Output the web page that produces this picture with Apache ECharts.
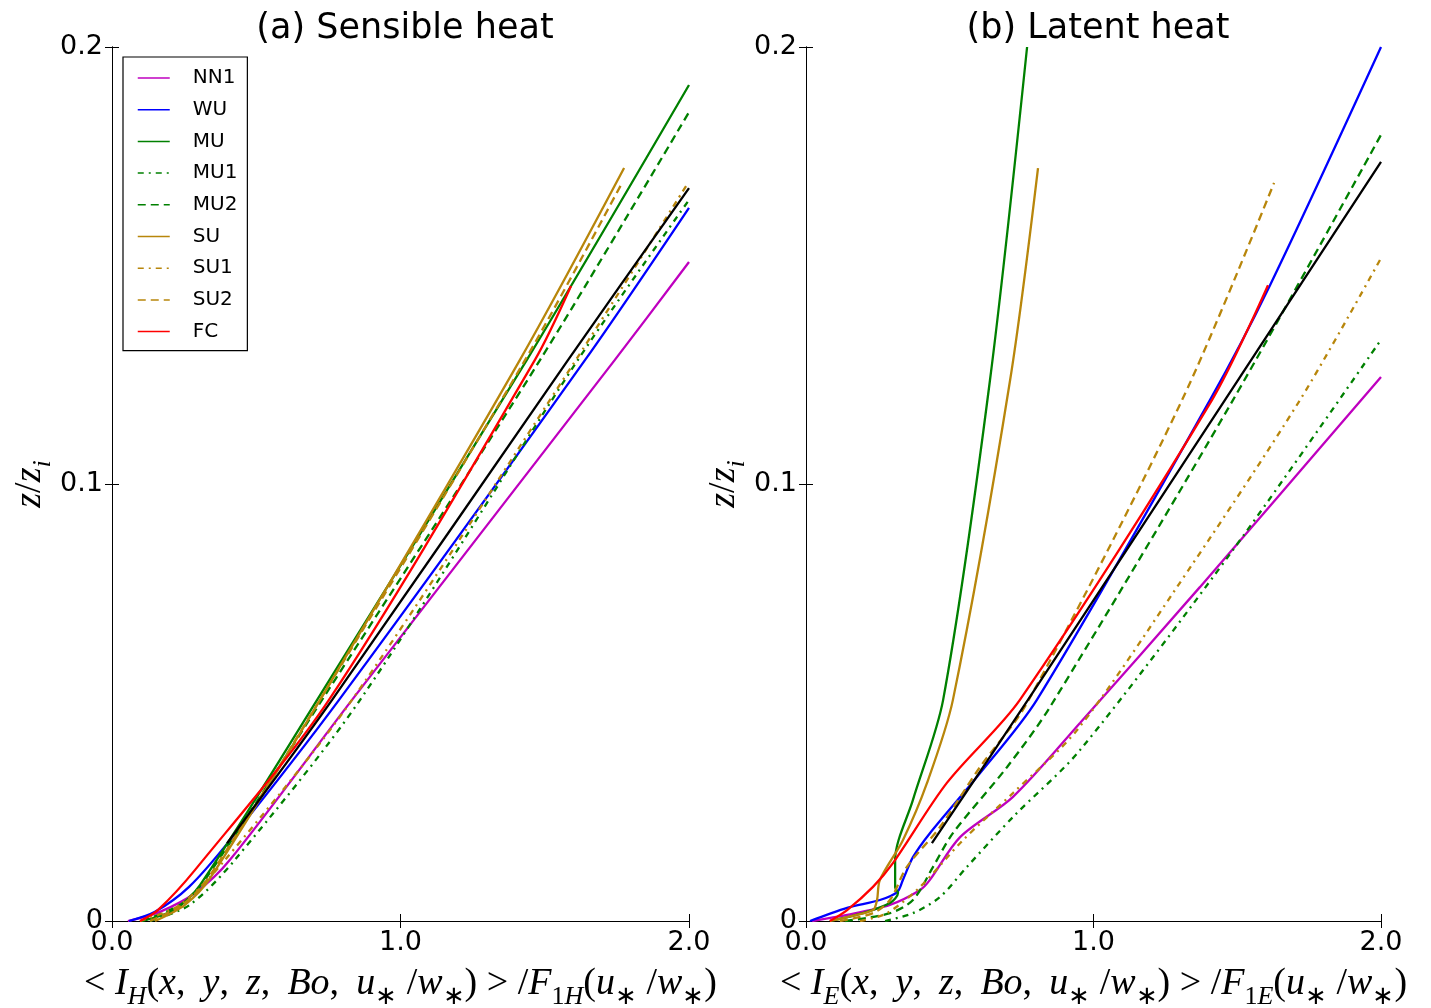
<!DOCTYPE html>
<html>
<head>
<meta charset="utf-8">
<script src="https://cdn.jsdelivr.net/npm/echarts@6/dist/echarts.min.js"></script>
<style>
html, body { margin: 0; padding: 0; background: #fff; }
#main { width: 1431px; height: 1008px; }
</style>
</head>
<body>
<div id="main"></div>
<script>
// (a) sensible heat : [x, z/zi]
var sensNN1 = [[0.055,0],[0.166,0.0021],[0.288,0.0064],[0.409,0.0140],[0.832,0.0506],[1.743,0.1284],[2.0,0.1508]];
var sensWU  = [[0.059,0],[0.149,0.0021],[0.267,0.0078],[0.409,0.0185],[0.787,0.0506],[1.640,0.1284],[2.0,0.1632]];
var sensMU  = [[0.104,0],[0.215,0.0025],[0.305,0.0082],[0.711,0.0506],[1.438,0.1284],[2.0,0.1913]];
var sensMU1 = [[0.132,0],[0.270,0.0037],[0.426,0.0140],[0.860,0.0506],[1.615,0.1284],[2.0,0.1650]];
var sensMU2 = [[0.104,0],[0.236,0.0037],[0.322,0.0094],[0.728,0.0506],[1.484,0.1284],[2.0,0.1851]];
var sensSU  = [[0.149,0],[0.253,0.0037],[0.340,0.0098],[0.721,0.0506],[1.414,0.1284],[1.775,0.1723]];
var sensSU1 = [[0.097,0],[0.236,0.0037],[0.392,0.0140],[0.832,0.0506],[1.608,0.1284],[1.990,0.1682]];
var sensSU2 = [[0.132,0],[0.243,0.0037],[0.333,0.0098],[0.721,0.0506],[1.432,0.1284],[1.768,0.1689]];
var sensFC  = [[0.097,0],[0.159,0.0025],[0.288,0.0117],[0.752,0.0506],[1.466,0.1284],[1.591,0.1453]];
var sensRef = [[0.399,0.0178],[0.763,0.0506],[1.581,0.1284],[2.0,0.1677]];

// (b) latent heat
var latNN1 = [[0.021,0],[0.143,0.0014],[0.292,0.0037],[0.397,0.0071],[0.431,0.0094],[0.536,0.0192],[0.720,0.0284],[0.953,0.0453],[1.370,0.0764],[2.0,0.1245]];
var latWU  = [[0.014,0],[0.143,0.0030],[0.257,0.0048],[0.317,0.0066],[0.337,0.0094],[0.372,0.0146],[0.431,0.0201],[0.595,0.0330],[0.803,0.0506],[1.405,0.1192],[1.614,0.1455],[2.0,0.2]];
var latMU  = [[0.083,0],[0.198,0.0018],[0.292,0.0041],[0.320,0.0064],[0.310,0.0078],[0.310,0.0140],[0.372,0.0277],[0.477,0.0506],[0.640,0.1238],[0.769,0.2]];
var latMU1 = [[0.275,0],[0.372,0.0018],[0.466,0.0055],[0.560,0.0124],[0.720,0.0238],[0.953,0.0391],[1.485,0.0849],[2.0,0.1330]];
var latMU2 = [[0.136,0],[0.292,0.0018],[0.372,0.0048],[0.442,0.0124],[0.511,0.0201],[0.699,0.0352],[0.849,0.0490],[1.485,0.1192],[2.0,0.1799]];
var latSU  = [[0.083,0],[0.143,0.0009],[0.233,0.0025],[0.247,0.0048],[0.257,0.0094],[0.337,0.0185],[0.421,0.0316],[0.511,0.0506],[0.710,0.1238],[0.807,0.1723]];
var latSU1 = [[0.188,0],[0.282,0.0018],[0.397,0.0078],[0.546,0.0185],[0.720,0.0293],[0.943,0.0437],[1.277,0.0751],[1.718,0.1192],[2.0,0.1517]];
var latSU2 = [[0.118,0],[0.233,0.0018],[0.292,0.0048],[0.351,0.0124],[0.466,0.0215],[0.605,0.0352],[0.769,0.0499],[1.308,0.1192],[1.628,0.1689]];
var latFC  = [[0.083,0],[0.143,0.0025],[0.233,0.0078],[0.303,0.0133],[0.490,0.0316],[0.744,0.0506],[1.412,0.1192],[1.607,0.1455]];
var latRef = [[0.438,0.0178],[0.772,0.0506],[1.457,0.1192],[2.0,0.1737]];

var names = ['NN1', 'WU', 'MU', 'MU1', 'MU2', 'SU', 'SU1', 'SU2', 'FC'];
var titles = ['(a) Sensible heat', '(b) Latent heat'];

var GREEN = '#008000', BROWN = '#b8860b';
var dashDot = [6, 5, 2, 5];
var dashed = [8, 5];

var myChart = echarts.init(document.getElementById('main'));

function line(name, data, color, type, panel) {
    return {
        name: name,
        type: 'line',
        xAxisIndex: panel * 2,
        yAxisIndex: panel * 2,
        data: data,
        symbol: 'none',
        smooth: 0.3,
        lineStyle: { color: color, width: 2.3, type: type },
        itemStyle: { color: color }
    };
}

function panelSeries(d, p) {
    return [
        line('NN1', d[0], '#bf00bf', 'solid', p),
        line('WU', d[1], '#0000ff', 'solid', p),
        line('MU', d[2], GREEN, 'solid', p),
        line('MU1', d[3], GREEN, dashDot, p),
        line('MU2', d[4], GREEN, dashed, p),
        line('SU', d[5], BROWN, 'solid', p),
        line('SU1', d[6], BROWN, dashDot, p),
        line('SU2', d[7], BROWN, dashed, p),
        line('FC', d[8], '#ff0000', 'solid', p),
        line('ref', d[9], '#000000', 'solid', p)
    ];
}

var labelFont = { fontSize: 27, color: '#000', fontFamily: 'DejaVu Sans' };
var math = {
    n: { fontFamily: 'Liberation Serif', fontSize: 38, color: '#000', lineHeight: 40 },
    i: { fontFamily: 'Liberation Serif', fontStyle: 'italic', fontSize: 38, color: '#000', lineHeight: 40 },
    s: { fontFamily: 'Liberation Serif', fontStyle: 'italic', fontSize: 26, color: '#000', verticalAlign: 'top', lineHeight: 24, padding: [20, 0, 0, 0] },
    r: { fontFamily: 'Liberation Serif', fontSize: 26, color: '#000', verticalAlign: 'top', lineHeight: 24, padding: [20, 0, 0, 0] }
};

function xName(k) {
    return '{n|< }{i|I}{s|' + k + '}{n|(}{i|x}{n|, \u2009}{i|y}{n|, \u2009}{i|z}{n|, \u2009}{i|Bo}{n|, \u2009}{i|u}{r|∗}{n| /}{i|w}{r|∗}{n|) > /}{i|F}{r|1}{s|' + k + '}{n|(}{i|u}{r|∗}{n| /}{i|w}{r|∗}{n|)}';
}

function xAxes(p, k) {
    return [{
        type: 'value', gridIndex: p, min: 0, max: 2, interval: 1,
        position: 'bottom',
        name: xName(k), nameLocation: 'middle', nameGap: 43,
        nameTextStyle: { rich: math },
        axisLine: { lineStyle: { color: '#000', width: 1 } },
        axisTick: { inside: true, length: 7, lineStyle: { color: '#000' } },
        axisLabel: Object.assign({ margin: 8, formatter: function (v) { return v.toFixed(1); } }, labelFont),
        splitLine: { show: false }
    }, {
        type: 'value', gridIndex: p, min: 0, max: 2, interval: 1,
        position: 'top',
        axisLine: { lineStyle: { color: '#000', width: 1 } },
        axisTick: { inside: true, length: 7, lineStyle: { color: '#000' } },
        axisLabel: { show: false },
        splitLine: { show: false }
    }];
}

function yAxes(p) {
    return [{
        type: 'value', gridIndex: p, min: 0, max: 0.2, interval: 0.1,
        position: 'left',
        name: '{i|z}{n|/}{i|z}{s|i}', nameLocation: 'middle', nameGap: 60, nameRotate: 90,
        nameTextStyle: { rich: math },
        axisLine: { show: true, lineStyle: { color: '#000', width: 1 } },
        axisTick: { show: true, inside: true, length: 7, lineStyle: { color: '#000' } },
        axisLabel: Object.assign({ margin: 9, formatter: function (v) { return v === 0 ? '0' : v.toFixed(1); } }, labelFont),
        splitLine: { show: false }
    }, {
        type: 'value', gridIndex: p, min: 0, max: 0.2, interval: 0.1,
        position: 'right',
        axisLine: { show: true, lineStyle: { color: '#000', width: 1 } },
        axisTick: { show: true, inside: true, length: 7, lineStyle: { color: '#000' } },
        axisLabel: { show: false },
        splitLine: { show: false }
    }];
}

var titleFont = { fontSize: 35, fontWeight: 'normal', color: '#000', fontFamily: 'DejaVu Sans' };

var option = {
    animation: false,
    backgroundColor: '#fff',
    title: [
        { text: titles[0], left: 400, top: 6, textAlign: 'center', textStyle: titleFont },
        { text: titles[1], left: 1093, top: 6, textAlign: 'center', textStyle: titleFont }
    ],
    legend: {
        data: names,
        icon: 'inherit',
        orient: 'vertical',
        left: 123, top: 57,
        padding: [11, 10, 9, 14],
        itemWidth: 32, itemHeight: 14, itemGap: 11.7,
        borderColor: '#000', borderWidth: 1.2, borderRadius: 0,
        backgroundColor: '#fff',
        itemStyle: { color: 'rgba(0,0,0,0)', borderWidth: 0 },
        lineStyle: { width: 1.5 },
        textStyle: { fontSize: 20, lineHeight: 20, color: '#000', fontFamily: 'DejaVu Sans', padding: [0, 0, 0, 18] },
        selectedMode: false
    },
    grid: [
        { left: 112, top: 47, width: 577, height: 874, outerBoundsMode: 'none' },
        { left: 806, top: 47, width: 575, height: 874, outerBoundsMode: 'none' }
    ],
    xAxis: xAxes(0, 'H').concat(xAxes(1, 'E')),
    yAxis: yAxes(0).concat(yAxes(1)),
    series: panelSeries([sensNN1, sensWU, sensMU, sensMU1, sensMU2, sensSU, sensSU1, sensSU2, sensFC, sensRef], 0)
        .concat(panelSeries([latNN1, latWU, latMU, latMU1, latMU2, latSU, latSU1, latSU2, latFC, latRef], 1))
};

myChart.setOption(option);
</script>
</body>
</html>
